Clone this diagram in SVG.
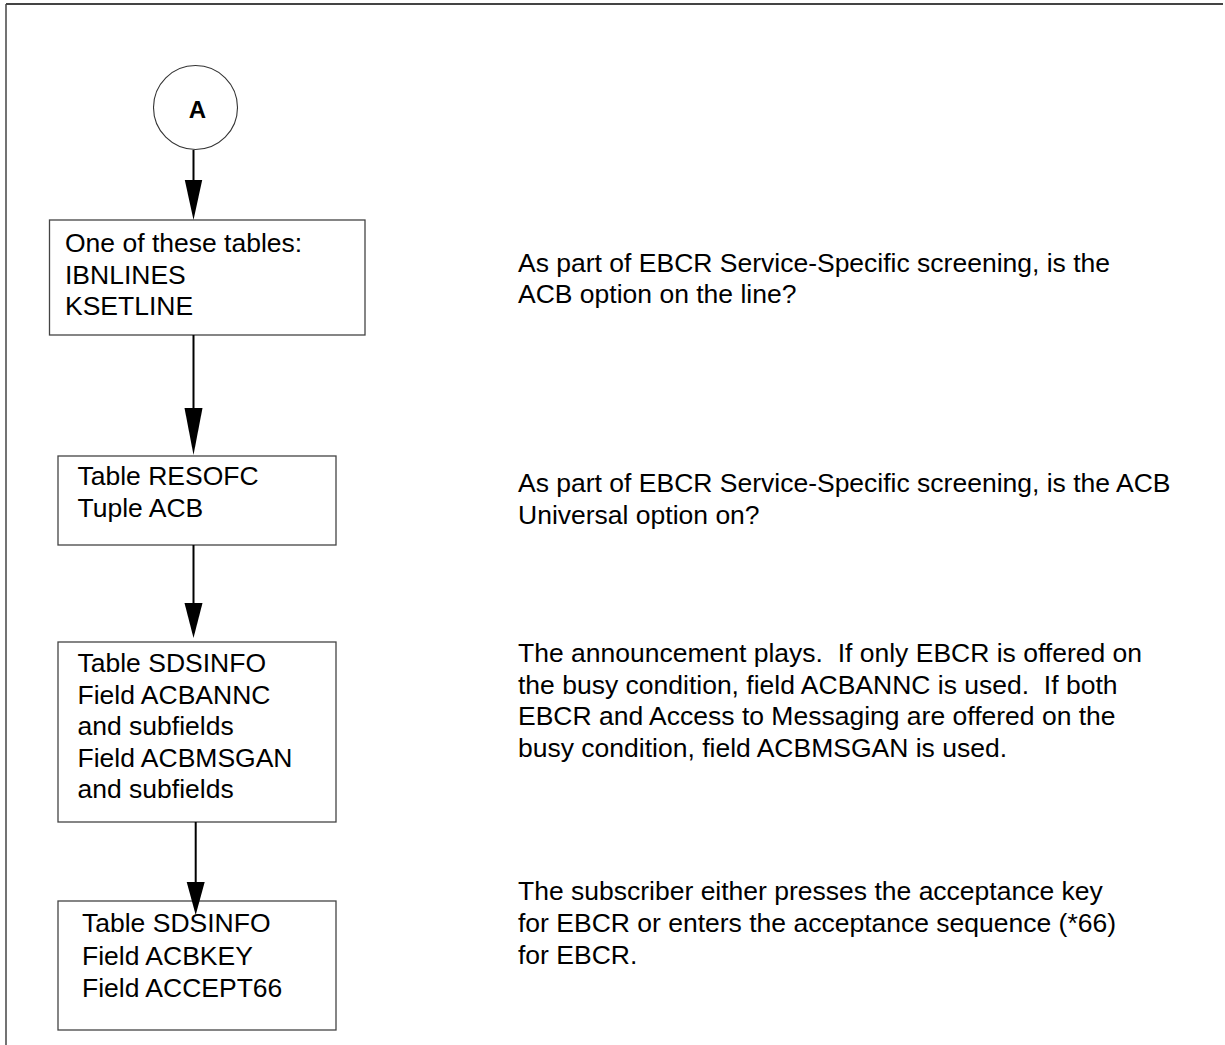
<svg xmlns="http://www.w3.org/2000/svg" width="1225" height="1045" viewBox="0 0 1225 1045">
  <style>
    .box { fill: #ffffff; stroke: #444444; stroke-width: 1.3; }
    .txt { font-family: "Liberation Sans", Arial, sans-serif; font-size: 26.5px; fill: #000000; white-space: pre; }
    .conn { stroke: #000000; stroke-width: 2; fill: none; }
    .head { fill: #000000; stroke: none; }
  </style>
  <rect x="0" y="0" width="1225" height="1045" fill="#ffffff"/>

  <!-- page frame -->
  <g id="frame">
    <line x1="6" y1="4" x2="1223" y2="4" stroke="#444444" stroke-width="2"/>
    <line x1="6" y1="4" x2="6" y2="1045" stroke="#444444" stroke-width="1.5"/>
  </g>

  <!-- connector A -->
  <g id="node-a">
    <circle cx="195.5" cy="107.5" r="42" fill="#ffffff" stroke="#333333" stroke-width="1.1"/>
    <text x="197.5" y="117.5" text-anchor="middle" font-family="'Liberation Sans', Arial, sans-serif" font-size="24" font-weight="bold">A</text>
  </g>

  <g id="node-lines">
    <rect class="box" x="49.5" y="220" width="315.5" height="115"/>
    <text class="txt" x="65" y="252">One of these tables:</text>
    <text class="txt" x="65" y="283.5">IBNLINES</text>
    <text class="txt" x="65" y="315">KSETLINE</text>
  </g>

  <g id="node-resofc">
    <rect class="box" x="58" y="456" width="278" height="89"/>
    <text class="txt" x="77.5" y="485">Table RESOFC</text>
    <text class="txt" x="77.5" y="516.5">Tuple ACB</text>
  </g>

  <g id="node-sdsinfo-annc">
    <rect class="box" x="58" y="642" width="278" height="180"/>
    <text class="txt" x="77.5" y="672">Table SDSINFO</text>
    <text class="txt" x="77.5" y="703.5">Field ACBANNC</text>
    <text class="txt" x="77.5" y="735">and subfields</text>
    <text class="txt" x="77.5" y="766.5">Field ACBMSGAN</text>
    <text class="txt" x="77.5" y="798">and subfields</text>
  </g>

  <g id="node-sdsinfo-key">
    <rect class="box" x="58" y="901" width="278" height="129"/>
    <text class="txt" x="82" y="932">Table SDSINFO</text>
    <text class="txt" x="82" y="964.5">Field ACBKEY</text>
    <text class="txt" x="82" y="996.5">Field ACCEPT66</text>
  </g>

  <!-- explanatory notes -->
  <g id="notes">
    <text class="txt" x="518" y="272">As part of EBCR Service-Specific screening, is the</text>
    <text class="txt" x="518" y="303">ACB option on the line?</text>

    <text class="txt" x="518" y="492">As part of EBCR Service-Specific screening, is the ACB</text>
    <text class="txt" x="518" y="524">Universal option on?</text>

    <text class="txt" x="518" y="662" xml:space="preserve">The announcement plays.  If only EBCR is offered on</text>
    <text class="txt" x="518" y="693.5" xml:space="preserve">the busy condition, field ACBANNC is used.  If both</text>
    <text class="txt" x="518" y="725">EBCR and Access to Messaging are offered on the</text>
    <text class="txt" x="518" y="757">busy condition, field ACBMSGAN is used.</text>

    <text class="txt" x="518" y="900">The subscriber either presses the acceptance key</text>
    <text class="txt" x="518" y="932">for EBCR or enters the acceptance sequence (*66)</text>
    <text class="txt" x="518" y="963.5">for EBCR.</text>
  </g>

  <g id="connectors">
    <line class="conn" x1="193.5" y1="150" x2="193.5" y2="182"/>
    <polygon class="head" points="184.8,180 202.2,180 193.5,220"/>

    <line class="conn" x1="193.5" y1="335" x2="193.5" y2="410"/>
    <polygon class="head" points="184.5,408 202.5,408 193.5,455"/>

    <line class="conn" x1="193.5" y1="545" x2="193.5" y2="605"/>
    <polygon class="head" points="184.5,603 202.5,603 193.5,638"/>

    <line class="conn" x1="195.7" y1="822" x2="195.7" y2="884"/>
    <polygon class="head" points="186.7,882 204.7,882 195.7,915"/>
  </g>
</svg>
